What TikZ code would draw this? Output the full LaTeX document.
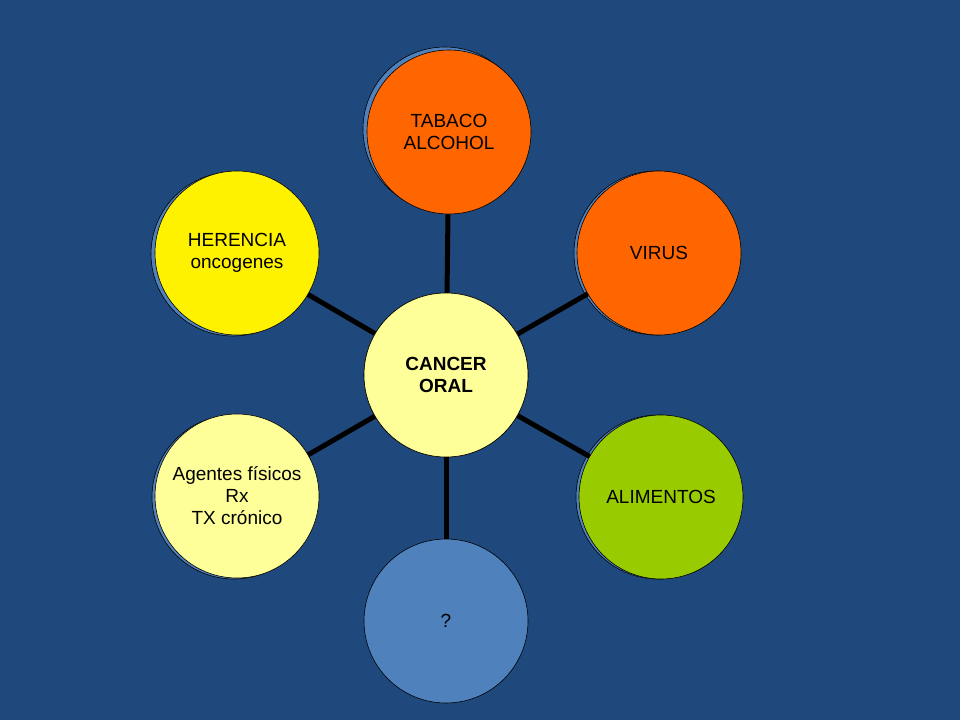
\documentclass[tikz,border=0pt]{standalone}
\usepackage{fontspec}
\setmainfont{Liberation Sans}
\definecolor{bg}{RGB}{31,73,125}
\definecolor{shad}{RGB}{79,129,189}
\definecolor{org}{RGB}{255,102,0}
\definecolor{lgreen}{RGB}{153,204,0}
\definecolor{pyel}{RGB}{255,255,153}
\definecolor{qblue}{RGB}{79,129,189}
\begin{document}
\begin{tikzpicture}[x=1pt,y=-1pt,
  bub/.style={circle,draw=black,line width=0.6pt,minimum size=164pt,inner sep=0pt,align=center,font=\fontsize{19}{22}\selectfont},
  shd/.style={circle,draw=black,fill=shad,line width=0.6pt,minimum size=164pt},
  spoke/.style={line width=5pt,black}]
\fill[bg] (0,0) rectangle (960,720);
\useasboundingbox (0,0) rectangle (960,720);
\node[shd] at (445,129) {};
\node[shd] at (656,253) {};
\node[shd] at (658,497) {};
\node[shd] at (233,254) {};
\node[shd] at (234,497) {};
\node (c) at (446,375) [bub,fill=pyel,font=\bfseries\fontsize{19}{22}\selectfont] {};
\node (t) at (449,132) [bub,fill=org] {TABACO\\ALCOHOL};
\node (v) at (659,253) [bub,fill=org] {VIRUS};
\node (a) at (661,497) [bub,fill=lgreen] {ALIMENTOS};
\node (q) at (446,621) [bub,fill=qblue] {?};
\node (f) at (237,496) [bub,fill=pyel] {Agentes físicos\\Rx\\TX crónico};
\node (h) at (237,253) [bub,fill=yellow] {HERENCIA\\oncogenes};
\foreach \n in {t,v,a,q,f,h} \draw[spoke] (c) -- (\n);
\node[bub,fill=pyel,font=\bfseries\fontsize{19}{22}\selectfont] at (c) {CANCER\\ORAL};
\end{tikzpicture}
\end{document}
